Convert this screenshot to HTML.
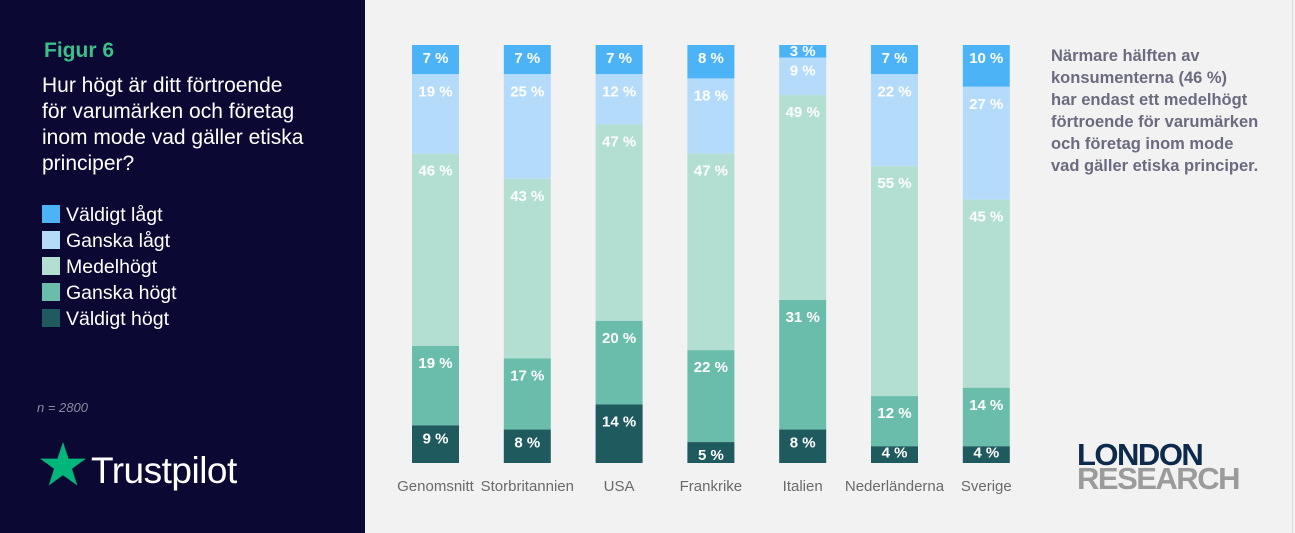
<!DOCTYPE html>
<html><head><meta charset="utf-8"><style>
body{margin:0;width:1295px;height:533px;overflow:hidden;font-family:"Liberation Sans",sans-serif;background:#f2f2f2;position:relative}
#left{position:absolute;left:0;top:0;width:365px;height:533px;background:#0b0833}
.t{position:absolute;white-space:nowrap}
</style></head><body>
<div id="left">
<div class="t" style="left:44px;top:39px;color:#3dbf8a;font-weight:bold;font-size:21px">Figur 6</div>
<div class="t" style="left:42px;top:73px;color:#fff;font-size:21px;line-height:26px">Hur högt är ditt förtroende<br>för varumärken och företag<br>inom mode vad gäller etiska<br>principer?</div>
<div id="legend" style="position:absolute;left:42px;top:205px"></div>
<div class="t" style="left:37px;top:400px;color:#8a8aa0;font-size:13px;font-style:italic">n = 2800</div>
<svg style="position:absolute;left:39px;top:441px" width="48" height="48" viewBox="0 0 48 48"><polygon points="24,1 29.6,17.6 47,17.6 33,27.8 38.3,44.5 24,34.2 9.7,44.5 15,27.8 1,17.6 18.4,17.6" fill="#00b67a"/></svg>
<div class="t" style="left:91px;top:450px;color:#fff;font-size:37px;letter-spacing:-0.5px">Trustpilot</div>
</div>
<svg id="chart" style="position:absolute;left:0;top:0" width="1295" height="533"></svg>
<div class="t" style="left:1051px;top:45px;color:#6b6b80;font-weight:bold;font-size:16.5px;line-height:22px">Närmare hälften av<br>konsumenterna (46 %)<br>har endast ett medelhögt<br>förtroende för varumärken<br>och företag inom mode<br>vad gäller etiska principer.</div>
<div class="t" style="left:1077px;top:443px;font-weight:900;font-size:31px;line-height:24px;letter-spacing:-1.5px"><span style="color:#0d2a4d">LONDON</span><br><span style="color:#9b9b9b">RESEARCH</span></div>
<div style="position:absolute;left:1292px;top:0;width:1px;height:533px;background:#ddd"></div>
<script>
const categories=["Genomsnitt","Storbritannien","USA","Frankrike","Italien","Nederländerna","Sverige"];
const seriesNames=["Väldigt lågt","Ganska lågt","Medelhögt","Ganska högt","Väldigt högt"];
const valdigtLagt=[7,7,7,8,3,7,10];
const ganskaLagt=[19,25,12,18,9,22,27];
const medelhogt=[46,43,47,47,49,55,45];
const ganskaHogt=[19,17,20,22,31,12,14];
const valdigtHogt=[9,8,14,5,8,4,4];
const colors=["#4db3f7","#b5dbfa","#b3dfd3","#6bbdab","#1f5a5e"];
const series=[valdigtLagt,ganskaLagt,medelhogt,ganskaHogt,valdigtHogt];
const NS="http://www.w3.org/2000/svg";
const svg=document.getElementById('chart');
const top0=45,bot=463,x0=412,step=91.8,bw=47;
const y=v=>top0+v/100*(bot-top0);
function mk(t,a){const e=document.createElementNS(NS,t);for(const k in a)e.setAttribute(k,a[k]);svg.appendChild(e);return e;}
categories.forEach((c,i)=>{
  let cum=0;const bx=x0+i*step;
  series.forEach((s,j)=>{
    const v=s[i];
    const r=mk('rect',{x:bx,y:y(cum),width:bw,height:y(cum+v)-y(cum),fill:colors[j]});
    
    
    const off=v<5?11:(v<=10?18:22);
    const tx=mk('text',{x:bx+bw/2,y:y(cum)+off,'text-anchor':'middle',fill:'#fff','font-size':15,'font-weight':'bold','font-family':'Liberation Sans'});
    tx.textContent=v+' %';
    
    
    cum+=v;
  });
  const l=mk('text',{x:bx+bw/2,y:491,'text-anchor':'middle',fill:'#6a6a6a','font-size':15,'font-family':'Liberation Sans'});
  l.textContent=c;
  
  
});
const lg=document.getElementById('legend');
seriesNames.forEach((n,j)=>{
  const d=document.createElement('div');
  
  
  d.style.cssText='position:absolute;left:0;top:'+(j*26)+'px;white-space:nowrap;color:#fff;font-size:19.5px;line-height:20px';
  d.innerHTML='<span style="display:inline-block;width:18px;height:18px;background:'+colors[j]+';vertical-align:-2px;margin-right:6px"></span>'+n;
  lg.appendChild(d);
});
</script>
</body></html>
